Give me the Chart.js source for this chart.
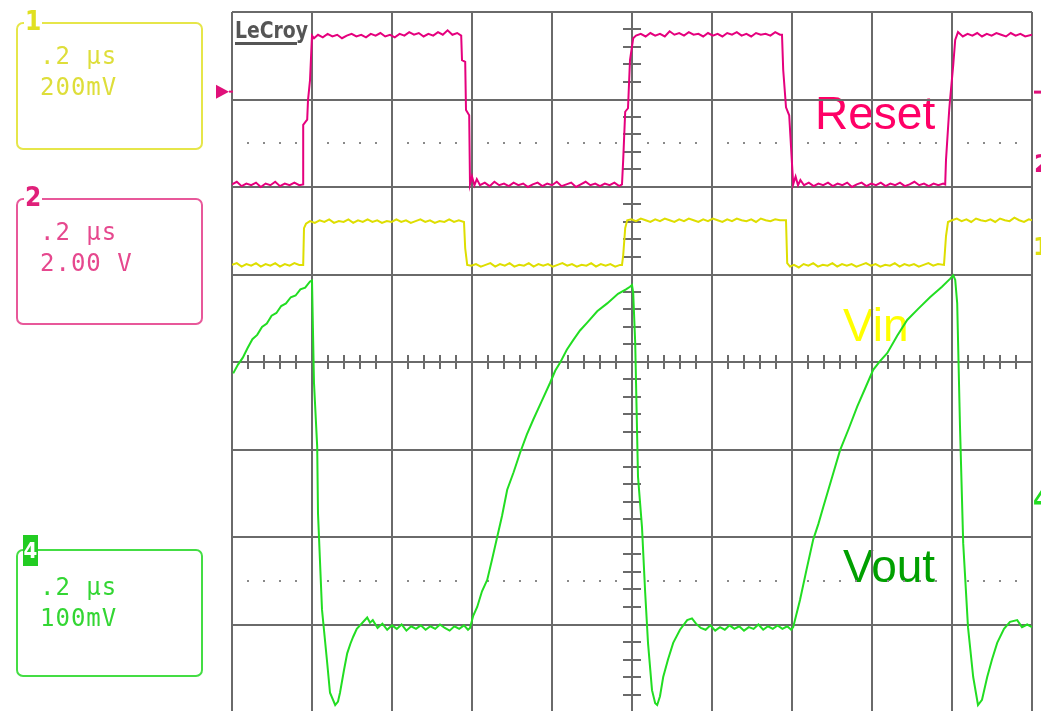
<!DOCTYPE html>
<html>
<head>
<meta charset="utf-8">
<script src="https://cdn.jsdelivr.net/npm/chart.js@4/dist/chart.umd.min.js"></script>
<style>
  html, body { margin: 0; padding: 0; background: #fff; overflow: hidden; }
  #wrap { position: relative; width: 1041px; height: 711px; overflow: hidden; }
  canvas { position: absolute; left: 0; top: 0; }
  .box { position: absolute; left: 16px; width: 187px; height: 126px; border: 2px solid; border-radius: 7px; box-sizing: border-box; }
  .box .num { position: absolute; left: 6px; top: -16px; font: bold 26px "DejaVu Sans Condensed", "DejaVu Sans", sans-serif; background: #fff; line-height: 26px; padding: 0 1px; }
  .box .txt { position: absolute; left: 22px; font: 24px "DejaVu Sans Mono", monospace; line-height: 31px; white-space: pre; letter-spacing: 1px; }
</style>
</head>
<body>
<div id="wrap">
  <canvas id="scope" width="1041" height="712"></canvas>
  <div class="box" style="top:22px;height:128px;border-color:#e6e64a;color:#dede3a;">
    <span class="num" style="color:#e0e020;">1</span>
    <div class="txt" style="top:17px;">.2 µs<br>200mV</div>
  </div>
  <div class="box" style="top:198px;height:127px;border-color:#e8589a;color:#e6488e;">
    <span class="num" style="color:#e0207a;">2</span>
    <div class="txt" style="top:17px;">.2 µs<br>2.00 V</div>
  </div>
  <div class="box" style="top:549px;height:128px;border-color:#44dd44;color:#33d633;">
    <span class="num" style="color:#fff;background:#22cc22;left:5px;top:-16px;width:15px;height:31px;line-height:31px;padding:0;text-align:center;font-size:22px;">4</span>
    <div class="txt" style="top:21px;">.2 µs<br>100mV</div>
  </div>
</div>
<script>
// time in ns (0.2 µs/div, 10 div), level in screen divisions (-4..4)
var resetT = [0, 12, 24, 36, 48, 60, 72, 84, 96, 108, 120, 132, 144, 156, 168, 178,
    178, 188, 190, 195, 200,
    205, 215, 227, 239, 251, 263, 275, 287, 299, 311, 323, 335, 347, 359, 371, 383, 395, 407, 419, 431, 443, 455, 467, 479, 491, 503, 515, 527, 539, 551, 563, 573,
    575, 583, 585, 593, 595, 600, 606, 612,
    620, 632, 644, 656, 668, 680, 692, 704, 716, 728, 740, 752, 764, 776, 788, 800, 812, 824, 836, 848, 860, 872, 884, 896, 908, 920, 932, 944, 956, 968, 975,
    978, 983, 990, 995, 1003,
    1010, 1022, 1034, 1046, 1058, 1070, 1082, 1094, 1106, 1118, 1130, 1142, 1154, 1166, 1178, 1190, 1202, 1214, 1226, 1238, 1250, 1262, 1274, 1286, 1298, 1310, 1322, 1334, 1346, 1358, 1370, 1375,
    1378, 1385, 1393, 1403, 1409, 1415, 1421,
    1430, 1442, 1454, 1466, 1478, 1490, 1502, 1514, 1526, 1538, 1550, 1562, 1574, 1586, 1598, 1610, 1622, 1634, 1646, 1658, 1670, 1682, 1694, 1706, 1718, 1730, 1742, 1754, 1766, 1778, 1783,
    1785, 1793, 1795, 1803, 1808, 1815,
    1827, 1839, 1851, 1863, 1875, 1887, 1899, 1911, 1923, 1935, 1947, 1959, 1971, 1983, 2000];
var resetV = [2.03, 2.06, 2.01, 2.04, 2.02, 2.05, 2.00, 2.04, 2.02, 2.06, 2.01, 2.04, 2.02, 2.05, 2.02, 2.03,
    2.71, 2.77, 2.99, 3.22, 3.73,
    3.70, 3.74, 3.71, 3.75, 3.72, 3.74, 3.70, 3.73, 3.75, 3.72, 3.74, 3.71, 3.75, 3.73, 3.76, 3.72, 3.74, 3.71, 3.75, 3.73, 3.77, 3.74, 3.76, 3.72, 3.75, 3.73, 3.77, 3.74, 3.79, 3.74, 3.76, 3.73,
    3.45, 3.43, 2.88, 2.82, 2.03, 2.12, 2.02, 2.09,
    2.02, 2.05, 2.01, 2.06, 2.02, 2.04, 2.01, 2.05, 2.02, 2.04, 2.00, 2.03, 2.05, 2.01, 2.04, 2.02, 2.06, 2.01, 2.03, 2.05, 2.00, 2.03, 2.06, 2.02, 2.04, 2.01, 2.04, 2.02, 2.05, 2.01, 2.03,
    2.31, 2.86, 2.90, 3.45, 3.70,
    3.73, 3.75, 3.72, 3.76, 3.73, 3.75, 3.72, 3.78, 3.74, 3.76, 3.73, 3.77, 3.74, 3.75, 3.72, 3.76, 3.73, 3.75, 3.72, 3.76, 3.74, 3.77, 3.73, 3.75, 3.72, 3.76, 3.74, 3.75, 3.73, 3.77, 3.74, 3.74,
    3.34, 2.91, 2.82, 2.03, 2.12, 2.02, 2.08,
    2.02, 2.05, 2.01, 2.04, 2.02, 2.05, 2.01, 2.04, 2.02, 2.05, 2.00, 2.03, 2.05, 2.01, 2.04, 2.02, 2.05, 2.01, 2.04, 2.02, 2.05, 2.01, 2.03, 2.06, 2.02, 2.04, 2.01, 2.04, 2.02, 2.04, 2.03,
    2.31, 2.88, 2.99, 3.39, 3.68, 3.77,
    3.72, 3.75, 3.73, 3.76, 3.72, 3.75, 3.73, 3.76, 3.74, 3.72, 3.76, 3.73, 3.75, 3.72, 3.74];

var vinT = [0, 12, 24, 36, 48, 60, 72, 84, 96, 108, 120, 132, 144, 156, 168, 178,
    180, 185,
    195, 207, 219, 231, 243, 255, 267, 279, 291, 303, 315, 327, 339, 351, 363, 375, 387, 399, 411, 423, 435, 447, 459, 471, 483, 495, 507, 519, 531, 543, 555, 567, 580,
    583, 588,
    598, 610, 622, 634, 646, 658, 670, 682, 694, 706, 718, 730, 742, 754, 766, 778, 790, 802, 814, 826, 838, 850, 862, 874, 886, 898, 910, 922, 934, 946, 958, 970, 975,
    978, 983, 988,
    998, 1010, 1022, 1034, 1046, 1058, 1070, 1082, 1094, 1106, 1118, 1130, 1142, 1154, 1166, 1178, 1190, 1202, 1214, 1226, 1238, 1250, 1262, 1274, 1286, 1298, 1310, 1322, 1334, 1346, 1358, 1370, 1385,
    1388, 1395,
    1405, 1417, 1429, 1441, 1453, 1465, 1477, 1489, 1501, 1513, 1525, 1537, 1549, 1561, 1573, 1585, 1597, 1609, 1621, 1633, 1645, 1657, 1669, 1681, 1693, 1705, 1717, 1729, 1741, 1753, 1765, 1780,
    1785, 1790,
    1800, 1812, 1824, 1836, 1848, 1860, 1872, 1884, 1896, 1908, 1920, 1932, 1944, 1956, 1968, 1980, 1992, 2000];
var vinV = [1.11, 1.13, 1.09, 1.12, 1.10, 1.13, 1.09, 1.12, 1.10, 1.13, 1.09, 1.12, 1.10, 1.13, 1.11, 1.11,
    1.53, 1.58,
    1.61, 1.59, 1.62, 1.60, 1.63, 1.59, 1.61, 1.60, 1.63, 1.59, 1.62, 1.60, 1.63, 1.60, 1.62, 1.59, 1.61, 1.60, 1.63, 1.60, 1.62, 1.59, 1.61, 1.63, 1.60, 1.62, 1.59, 1.61, 1.60, 1.63, 1.60, 1.62, 1.60,
    1.30, 1.11,
    1.10, 1.12, 1.09, 1.11, 1.13, 1.09, 1.12, 1.10, 1.13, 1.09, 1.11, 1.10, 1.13, 1.09, 1.12, 1.10, 1.12, 1.09, 1.11, 1.13, 1.10, 1.12, 1.09, 1.11, 1.10, 1.13, 1.09, 1.12, 1.10, 1.12, 1.09, 1.11, 1.11,
    1.22, 1.53, 1.62,
    1.63, 1.61, 1.64, 1.62, 1.60, 1.63, 1.61, 1.64, 1.62, 1.60, 1.63, 1.61, 1.64, 1.62, 1.60, 1.63, 1.61, 1.64, 1.62, 1.60, 1.63, 1.61, 1.64, 1.62, 1.61, 1.63, 1.60, 1.64, 1.62, 1.61, 1.63, 1.62, 1.62,
    1.13, 1.09,
    1.11, 1.08, 1.12, 1.10, 1.13, 1.09, 1.11, 1.10, 1.13, 1.09, 1.12, 1.10, 1.12, 1.09, 1.11, 1.13, 1.10, 1.12, 1.09, 1.11, 1.10, 1.13, 1.09, 1.12, 1.10, 1.12, 1.09, 1.11, 1.13, 1.10, 1.12, 1.11,
    1.44, 1.60,
    1.62, 1.64, 1.61, 1.63, 1.60, 1.64, 1.62, 1.61, 1.63, 1.60, 1.64, 1.62, 1.61, 1.65, 1.62, 1.60, 1.63, 1.62];

var voutT = [3, 15, 27, 39, 51, 63, 75, 87, 99, 111, 123, 135, 147, 159, 171, 183, 195, 200,
    205, 213, 215, 225, 238, 245, 258, 265, 270, 280, 288, 296, 303, 312, 320, 330, 338, 345, 352,
    364, 376, 388, 400, 412, 424, 436, 448, 460, 472, 484, 496, 508, 520, 532, 544, 556, 568, 580, 590, 595,
    603, 613, 625, 638, 650, 663, 675, 688, 704, 720, 737, 753, 774, 795, 808, 820, 837, 853, 870, 888, 913, 938, 965, 985, 995, 1000,
    1003, 1008, 1015, 1025, 1033, 1040, 1050, 1058, 1063, 1070, 1078, 1090, 1103, 1120, 1138, 1150, 1160,
    1172, 1184, 1196, 1208, 1220, 1232, 1244, 1256, 1268, 1280, 1292, 1304, 1316, 1328, 1340, 1352, 1364, 1376, 1388, 1398, 1403,
    1420, 1436, 1453, 1466, 1478, 1500, 1520, 1542, 1563, 1583, 1603, 1620, 1638, 1663, 1688, 1716, 1745, 1775, 1795, 1803,
    1808, 1813, 1820, 1828, 1840, 1853, 1865, 1875, 1888, 1900, 1913, 1930, 1945, 1963, 1975, 1988, 2000];
var voutV = [-0.13, -0.03, 0.05, 0.16, 0.26, 0.31, 0.40, 0.44, 0.53, 0.56, 0.64, 0.67, 0.74, 0.76, 0.83, 0.85, 0.92, 0.93,
    -0.24, -0.97, -1.73, -2.83, -3.44, -3.78, -3.92, -3.88, -3.78, -3.52, -3.33, -3.22, -3.14, -3.05, -3.01, -2.96, -2.92, -2.98, -2.95,
    -3.04, -2.99, -3.06, -3.01, -3.05, -3.00, -3.07, -3.02, -3.05, -3.01, -3.06, -3.02, -3.05, -3.00, -3.04, -3.07, -3.02, -3.05, -3.01, -3.06, -3.04,
    -2.90, -2.80, -2.62, -2.49, -2.26, -2.00, -1.76, -1.46, -1.26, -1.04, -0.83, -0.66, -0.45, -0.24, -0.10, -0.01, 0.14, 0.25, 0.36, 0.45, 0.58, 0.67, 0.78, 0.83, 0.86, 0.88,
    0.79, 0.22, -1.31, -1.89, -2.64, -3.21, -3.75, -3.90, -3.92, -3.82, -3.60, -3.40, -3.21, -3.06, -2.95, -2.93, -2.99,
    -3.04, -3.06, -3.01, -3.07, -3.03, -3.06, -3.01, -3.05, -3.02, -3.07, -3.03, -3.05, -3.00, -3.06, -3.02, -3.05, -3.01, -3.05, -3.02, -3.06, -3.03,
    -2.72, -2.38, -2.03, -1.85, -1.66, -1.32, -1.01, -0.76, -0.51, -0.30, -0.09, 0.01, 0.10, 0.30, 0.48, 0.61, 0.74, 0.86, 0.95, 0.99,
    0.94, 0.67, -0.74, -2.07, -3.03, -3.60, -3.92, -3.86, -3.60, -3.40, -3.21, -3.05, -2.97, -2.95, -3.03, -3.00, -3.03];

var trigLevel = 3.09;

function pts(t, v) {
    var out = [];
    for (var i = 0; i < t.length; i++) out.push({ x: t[i], y: v[i] });
    return out;
}

var decor = {
    id: 'decor',
    // trace names sit under the graticule, like on the scope screen
    beforeDraw: function (chart) {
        var ctx = chart.ctx;
        ctx.save();
        ctx.font = '46px "Liberation Sans", Arial, sans-serif';
        ctx.textBaseline = 'alphabetic';
        ctx.fillStyle = '#ff0066';
        ctx.fillText('Reset', 815, 129);
        ctx.fillStyle = '#ffff00';
        ctx.fillText('Vin', 843, 341);
        ctx.fillStyle = '#00a000';
        ctx.fillText('Vout', 843, 582);
        ctx.restore();
    },
    beforeDatasetsDraw: function (chart) {
        var ctx = chart.ctx, xs = chart.scales.x, ys = chart.scales.y;
        var cx = xs.getPixelForValue(1000), cy = ys.getPixelForValue(0);
        ctx.save();
        ctx.strokeStyle = '#6a6a6a';
        ctx.lineWidth = 2;
        // minor ticks on the centre cross
        ctx.beginPath();
        for (var t = 40; t < 2000; t += 40) {
            if (t % 200 === 0) continue;
            var px = Math.round(xs.getPixelForValue(t));
            ctx.moveTo(px, cy - 7); ctx.lineTo(px, cy + 7);
        }
        for (var d = -3.8; d < 4; d += 0.2) {
            if (Math.abs(d - Math.round(d)) < 0.01) continue;
            var py = Math.round(ys.getPixelForValue(d));
            ctx.moveTo(cx - 9, py); ctx.lineTo(cx + 9, py);
        }
        ctx.stroke();
        // dotted rows
        ctx.fillStyle = '#8a8a8a';
        [2.5, -2.5].forEach(function (lv) {
            var py = Math.round(ys.getPixelForValue(lv));
            for (var t = 40; t < 2000; t += 40) {
                if (t % 200 === 0) continue;
                ctx.fillRect(Math.round(xs.getPixelForValue(t)) - 1, py - 1, 2, 2);
            }
        });
        // LeCroy logo
        ctx.fillStyle = '#555';
        ctx.font = 'bold 23px "DejaVu Sans Condensed", "DejaVu Sans", sans-serif';
        ctx.textBaseline = 'alphabetic';
        ctx.fillText('LeCroy', 235, 38, 73);
        ctx.fillRect(235, 42, 62, 3);
        // trigger marker
        var ty = ys.getPixelForValue(trigLevel);
        ctx.fillStyle = '#e0107a';
        ctx.beginPath();
        ctx.moveTo(216, ty - 7); ctx.lineTo(229, ty); ctx.lineTo(216, ty + 7);
        ctx.closePath(); ctx.fill();
        ctx.fillRect(229, ty - 1, 4, 2);
        // right-edge channel markers
        ctx.fillRect(1034, ty - 1, 7, 3);
        ctx.font = 'bold 24px "DejaVu Sans", sans-serif';
        ctx.fillText('2', 1034, 172);
        ctx.fillStyle = '#e0e010';
        ctx.fillText('1', 1033, 255);
        ctx.fillStyle = '#22dd22';
        ctx.fillText('4', 1033, 508);
        ctx.restore();
    }
};

var ctx = document.getElementById('scope').getContext('2d');
var scope = new Chart(ctx, {
    type: 'line',
    data: {
        datasets: [
            { label: 'Reset', data: pts(resetT, resetV), borderColor: '#e5007d' },
            { label: 'Vin', data: pts(vinT, vinV), borderColor: '#dede00' },
            { label: 'Vout', data: pts(voutT, voutV), borderColor: '#22dd22' }
        ]
    },
    options: {
        responsive: false,
        animation: false,
        layout: { padding: { left: 232, right: 9, top: 12, bottom: 0 } },
        elements: {
            point: { radius: 0 },
            line: { borderWidth: 2, tension: 0 }
        },
        plugins: {
            legend: { display: false },
            tooltip: { enabled: false }
        },
        scales: {
            x: {
                type: 'linear', min: 0, max: 2000,
                ticks: { display: false, stepSize: 200 },
                grid: { color: '#6a6a6a', lineWidth: 2, drawTicks: false },
                border: { display: false }
            },
            y: {
                type: 'linear', min: -4, max: 4,
                ticks: { display: false, stepSize: 1 },
                grid: { color: '#6a6a6a', lineWidth: 2, drawTicks: false },
                border: { display: false }
            }
        }
    },
    plugins: [decor]
});
</script>
</body>
</html>
